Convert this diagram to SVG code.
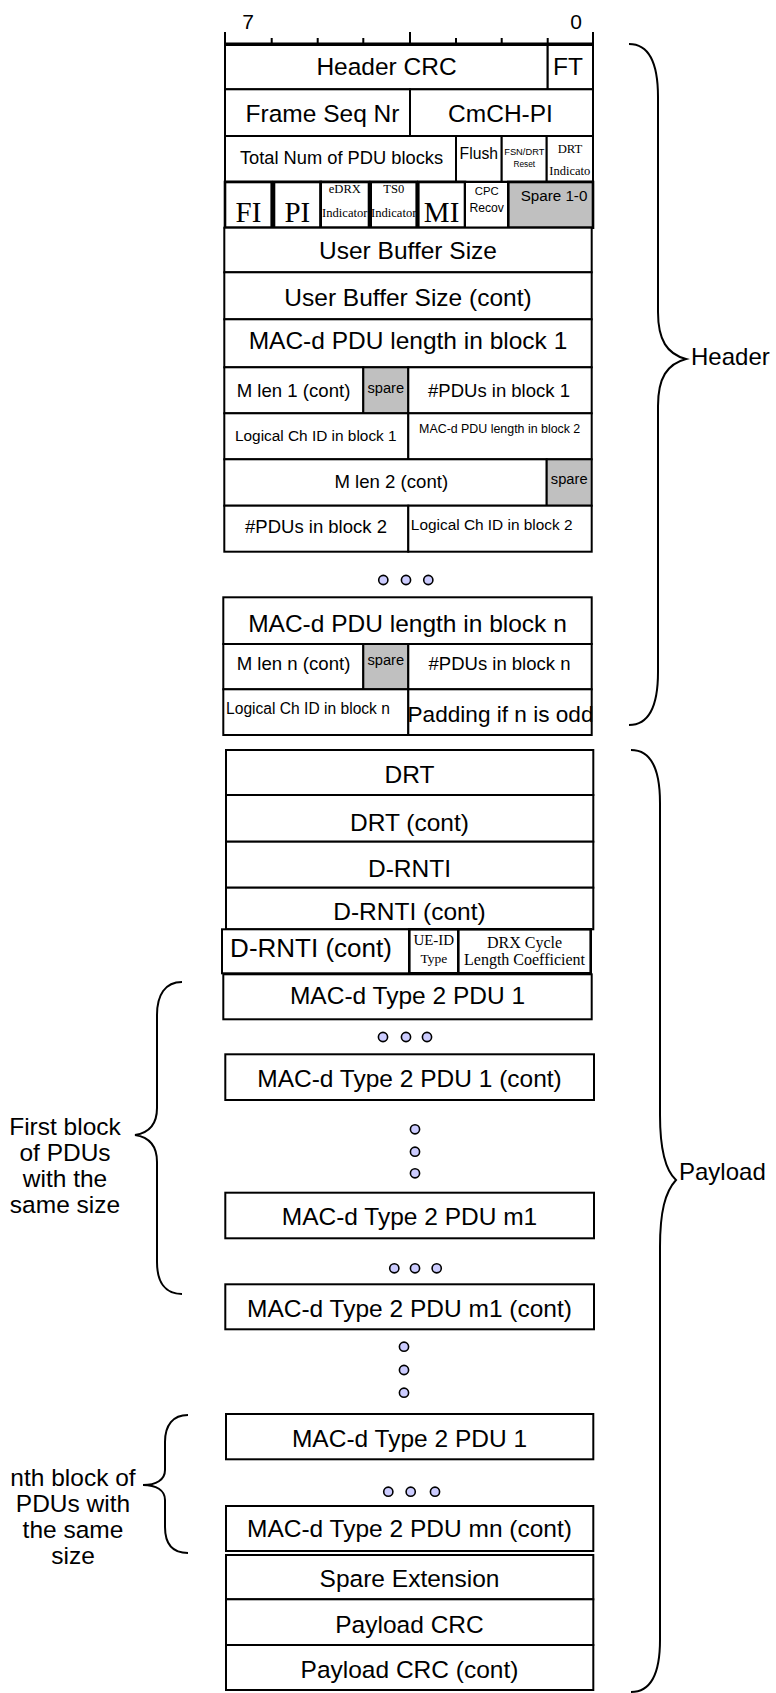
<svg xmlns="http://www.w3.org/2000/svg" width="776" height="1693" viewBox="0 0 776 1693">
<style>
.b{fill:#fff;stroke:#000;stroke-width:2}
.bt{fill:#fff;stroke:#000;stroke-width:2.6}
.g{fill:#c0c0c0;stroke:#000;stroke-width:2}
.gt{fill:#c0c0c0;stroke:#000;stroke-width:2.6}
.t{font-family:"Liberation Sans",Arial,sans-serif;fill:#000;text-anchor:middle}
.ts{font-family:"Liberation Serif","Times New Roman",serif;fill:#000;text-anchor:middle}
.L{font-size:24.5px}
.dot{fill:#ccccff;stroke:#000;stroke-width:1.6}
.br{fill:none;stroke:#000;stroke-width:2}
.rl{fill:none;stroke:#000;stroke-width:2}
</style>
<rect width="776" height="1693" fill="#fff"/>
<g id="ruler">
<line class="rl" x1="225" y1="43.5" x2="593" y2="43.5"/>
<path class="rl" d="M225,32V44M410,32V44M593,32V44M271.7,38V44M317.7,38V44M363.3,38V44M456,38V44M501.7,38V44M547.7,38V44"/>
<text class="t" x="248" y="29" style="font-size:21px">7</text>
<text class="t" x="576" y="29" style="font-size:21px">0</text>
</g>
<g id="header-crc"><rect class="b" x="225" y="45" width="322.7" height="44.3"/><text class="t L" x="386.5" y="75">Header CRC</text></g>
<g id="ft"><rect class="b" x="547.7" y="45" width="45.3" height="44.3"/><text class="t L" x="568" y="75">FT</text></g>
<g id="frame-seq-nr"><rect class="b" x="225" y="89.3" width="185" height="46.7"/><text class="t L" x="322.5" y="121.5">Frame Seq Nr</text></g>
<g id="cmch-pi"><rect class="b" x="410" y="89.3" width="183" height="46.7"/><text class="t L" x="500.5" y="121.5">CmCH-PI</text></g>
<g id="total-num"><rect class="b" x="225" y="136" width="231" height="45.7"/><text class="t" x="341.5" y="163.5" style="font-size:18.3px">Total Num of PDU blocks</text></g>
<g id="flush"><rect class="b" x="456" y="136" width="45.7" height="45.7"/><text class="t" x="478.8" y="158.5" style="font-size:15.7px">Flush</text></g>
<g id="fsn-drt-reset"><rect class="b" x="501.7" y="136" width="45" height="45.7"/><text class="t" x="524.3" y="155" style="font-size:9.3px">FSN/DRT</text><text class="t" x="524.3" y="167.3" style="font-size:8.3px">Reset</text></g>
<g id="drt-indicator"><rect class="b" x="546.7" y="136" width="46.3" height="45.7"/><text class="ts" x="570" y="153.3" style="font-size:12.7px">DRT</text><text class="ts" x="569.8" y="175" style="font-size:12.5px">Indicato</text></g>
<g id="fi"><rect class="bt" x="225" y="182" width="46.7" height="45.7"/><text class="ts" x="248.5" y="221.5" style="font-size:29px">FI</text></g>
<g id="pi"><rect class="bt" x="274" y="182" width="46.7" height="45.7"/><text class="ts" x="297.3" y="221.5" style="font-size:29px">PI</text></g>
<g id="edrx"><rect class="bt" x="320.7" y="182" width="48.3" height="45.7"/><text class="ts" x="344.8" y="193" style="font-size:12.6px">eDRX</text><text class="ts" x="344.8" y="217" style="font-size:12.6px">Indicator</text></g>
<g id="ts0"><rect class="bt" x="370.7" y="182" width="46" height="45.7"/><text class="ts" x="393.7" y="193" style="font-size:12.6px">TS0</text><text class="ts" x="393.7" y="217" style="font-size:12.6px">Indicator</text></g>
<g id="mi"><rect class="bt" x="418.3" y="182" width="46.7" height="45.7"/><text class="ts" x="441.6" y="221.5" style="font-size:29px">MI</text></g>
<g id="cpc-recov"><rect class="b" x="465" y="182" width="43.3" height="45.7"/><text class="t" x="486.7" y="195" style="font-size:11.3px">CPC</text><text class="t" x="486.7" y="211.7" style="font-size:12.2px">Recov</text></g>
<g id="spare-1-0"><rect class="gt" x="508.3" y="182" width="84.7" height="45.7"/><text class="t" x="554" y="201" style="font-size:15.2px">Spare 1-0</text></g>
<g id="user-buffer-size"><rect class="b" x="224.3" y="227.7" width="367.4" height="44.6"/><text class="t L" x="408" y="258.5">User Buffer Size</text></g>
<g id="user-buffer-size-cont"><rect class="b" x="224.3" y="272.3" width="367.4" height="47"/><text class="t L" x="408" y="306">User Buffer Size (cont)</text></g>
<g id="mac-d-len-1"><rect class="b" x="224.3" y="319.3" width="367.4" height="48"/><text class="t L" x="408" y="349">MAC-d PDU length in block 1</text></g>
<g id="m-len-1-cont"><rect class="b" x="224.3" y="367.3" width="139" height="46"/><text class="t" x="293.5" y="396.5" style="font-size:18.6px">M len 1 (cont)</text></g>
<g id="spare-1"><rect class="g" x="363.3" y="367.3" width="45" height="46"/><text class="t" x="385.8" y="392.5" style="font-size:14.7px">spare</text></g>
<g id="pdus-block-1"><rect class="b" x="408.3" y="367.3" width="183.4" height="46"/><text class="t" x="499" y="396.5" style="font-size:18.5px">#PDUs in block 1</text></g>
<g id="lch-block-1"><rect class="b" x="224.3" y="413.3" width="184" height="46"/><text class="t" x="315.8" y="441" style="font-size:15.4px">Logical Ch ID in block 1</text></g>
<g id="mac-d-len-2"><rect class="b" x="408.3" y="413.3" width="183.4" height="46"/><text class="t" x="499.7" y="433.3" style="font-size:12.4px">MAC-d PDU length in block 2</text></g>
<g id="m-len-2-cont"><rect class="b" x="224.3" y="459.3" width="322.4" height="46.4"/><text class="t" x="391.3" y="488.3" style="font-size:18.6px">M len 2 (cont)</text></g>
<g id="spare-2"><rect class="g" x="546.7" y="459.3" width="45" height="46.4"/><text class="t" x="569.2" y="483.5" style="font-size:14.7px">spare</text></g>
<g id="pdus-block-2"><rect class="b" x="224.3" y="505.7" width="184" height="46"/><text class="t" x="316" y="533.3" style="font-size:18.5px">#PDUs in block 2</text></g>
<g id="lch-block-2"><rect class="b" x="408.3" y="505.7" width="183.4" height="46"/><text class="t" x="491.7" y="530.3" style="font-size:15.4px">Logical Ch ID in block 2</text></g>
<g id="dots-1"><circle class="dot" cx="383.3" cy="580" r="4.6"/><circle class="dot" cx="406" cy="580" r="4.6"/><circle class="dot" cx="428.3" cy="580" r="4.6"/></g>
<g id="mac-d-len-n"><rect class="b" x="223.3" y="597.3" width="368.4" height="46.7"/><text class="t L" x="407.5" y="632">MAC-d PDU length in block n</text></g>
<g id="m-len-n-cont"><rect class="b" x="223.3" y="644" width="140" height="45.3"/><text class="t" x="293.5" y="670" style="font-size:18.6px">M len n (cont)</text></g>
<g id="spare-n"><rect class="g" x="363.3" y="644" width="45" height="45.3"/><text class="t" x="385.8" y="664.5" style="font-size:14.7px">spare</text></g>
<g id="pdus-block-n"><rect class="b" x="408.3" y="644" width="183.4" height="45.3"/><text class="t" x="499.5" y="670" style="font-size:18.5px">#PDUs in block n</text></g>
<g id="lch-block-n"><rect class="b" x="223.3" y="689.3" width="185" height="45.7"/><text class="t" x="308" y="713.5" style="font-size:15.6px">Logical Ch ID in block n</text></g>
<g id="padding"><rect class="b" x="408.3" y="689.3" width="183.4" height="45.7"/><text class="t" x="500.5" y="721.5" style="font-size:22.6px">Padding if n is odd</text></g>
<g id="drt"><rect class="b" x="226" y="750" width="367.3" height="45"/><text class="t L" x="409.5" y="782.5">DRT</text></g>
<g id="drt-cont"><rect class="b" x="226" y="795" width="367.3" height="46.7"/><text class="t L" x="409.5" y="830.5">DRT (cont)</text></g>
<g id="d-rnti"><rect class="b" x="226" y="841.7" width="367.3" height="46"/><text class="t L" x="409.5" y="876.5">D-RNTI</text></g>
<g id="d-rnti-cont"><rect class="b" x="226" y="887.7" width="367.3" height="41.6"/><text class="t L" x="409.5" y="920">D-RNTI (cont)</text></g>
<g id="d-rnti-cont-2"><rect class="b" x="222" y="929.3" width="187.3" height="44"/><text class="t" x="311" y="956.5" style="font-size:26px">D-RNTI (cont)</text></g>
<g id="ue-id-type"><rect class="bt" x="409.3" y="929.3" width="49" height="44"/><text class="ts" x="433.8" y="945" style="font-size:15px">UE-ID</text><text class="ts" x="433.8" y="962.7" style="font-size:13.5px">Type</text></g>
<g id="drx-cycle"><rect class="bt" x="458.3" y="929.3" width="132.4" height="44"/><text class="ts" x="524.5" y="948.3" style="font-size:16px">DRX Cycle</text><text class="ts" x="524.5" y="965" style="font-size:16px">Length Coefficient</text></g>
<g id="pdu-1"><rect class="b" x="223.3" y="974.3" width="368.4" height="45"/><text class="t L" x="407.5" y="1004">MAC-d Type 2 PDU 1</text></g>
<g id="dots-2"><circle class="dot" cx="383" cy="1037" r="4.6"/><circle class="dot" cx="406" cy="1037" r="4.6"/><circle class="dot" cx="427" cy="1037" r="4.6"/></g>
<g id="pdu-1-cont"><rect class="b" x="225.3" y="1054.3" width="368.7" height="45.7"/><text class="t L" x="409.5" y="1086.5">MAC-d Type 2 PDU 1 (cont)</text></g>
<g id="dots-3"><circle class="dot" cx="415" cy="1129.3" r="4.6"/><circle class="dot" cx="415" cy="1151.7" r="4.6"/><circle class="dot" cx="415" cy="1173.3" r="4.6"/></g>
<g id="pdu-m1"><rect class="b" x="225.3" y="1192.7" width="368.7" height="45.6"/><text class="t L" x="409.5" y="1225">MAC-d Type 2 PDU m1</text></g>
<g id="dots-4"><circle class="dot" cx="394.3" cy="1268.3" r="4.6"/><circle class="dot" cx="415" cy="1268.3" r="4.6"/><circle class="dot" cx="436.7" cy="1268.3" r="4.6"/></g>
<g id="pdu-m1-cont"><rect class="b" x="225.3" y="1284.3" width="368.7" height="45"/><text class="t L" x="409.5" y="1316.5">MAC-d Type 2 PDU m1 (cont)</text></g>
<g id="dots-5"><circle class="dot" cx="404" cy="1346.7" r="4.6"/><circle class="dot" cx="404" cy="1370" r="4.6"/><circle class="dot" cx="404" cy="1392.7" r="4.6"/></g>
<g id="pdu-n1"><rect class="b" x="226" y="1414" width="367.3" height="45.3"/><text class="t L" x="409.5" y="1446.5">MAC-d Type 2 PDU 1</text></g>
<g id="dots-6"><circle class="dot" cx="388.3" cy="1491.7" r="4.6"/><circle class="dot" cx="410.7" cy="1491.7" r="4.6"/><circle class="dot" cx="435" cy="1491.7" r="4.6"/></g>
<g id="pdu-mn-cont"><rect class="b" x="226" y="1506" width="367.3" height="45"/><text class="t L" x="409.5" y="1536.5">MAC-d Type 2 PDU mn (cont)</text></g>
<g id="spare-extension"><rect class="b" x="226" y="1555" width="367.3" height="44.3"/><text class="t L" x="409.5" y="1586.5">Spare Extension</text></g>
<g id="payload-crc"><rect class="b" x="226" y="1599.3" width="367.3" height="45.7"/><text class="t L" x="409.5" y="1633.3">Payload CRC</text></g>
<g id="payload-crc-cont"><rect class="b" x="226" y="1645" width="367.3" height="45"/><text class="t L" x="409.5" y="1678.3">Payload CRC (cont)</text></g>
<g id="braces">
<path class="br" d="M629,44 C648,44 658,62 658,97 L658,312 C658,340 667,354 686,359 C667,364 658,378 658,406 L658,672 C658,707 648,725 629,725"/>
<path class="br" d="M631,750 C650,750 660,768 660,803 L660,1115 C660,1150 665,1170 676,1180 C665,1192 660,1212 660,1247 L660,1640 C660,1675 650,1692 631,1692"/>
<path class="br" d="M182,982 C165,982 157,995 157,1015 L157,1108 C157,1125 148,1133 135,1135 C148,1137 157,1145 157,1162 L157,1262 C157,1282 165,1294 182,1294"/>
<path class="br" d="M188,1415 C173,1415 165,1425 165,1442 L165,1470 C165,1480 156,1485 143,1485 C156,1485 165,1490 165,1500 L165,1527 C165,1544 173,1553 188,1553"/>
</g>
<g id="label-header"><text class="t L" x="691" y="365" style="text-anchor:start;font-size:24px">Header</text></g>
<g id="label-payload"><text class="t L" x="679" y="1180" style="text-anchor:start;font-size:24px">Payload</text></g>
<g id="label-first-block"><text class="t L" x="65" y="1135">First block</text><text class="t L" x="65" y="1161">of PDUs</text><text class="t L" x="65" y="1187">with the</text><text class="t L" x="65" y="1213">same size</text></g>
<g id="label-nth-block"><text class="t L" x="73" y="1486">nth block of</text><text class="t L" x="73" y="1512">PDUs with</text><text class="t L" x="73" y="1538">the same</text><text class="t L" x="73" y="1564">size</text></g>
</svg>
